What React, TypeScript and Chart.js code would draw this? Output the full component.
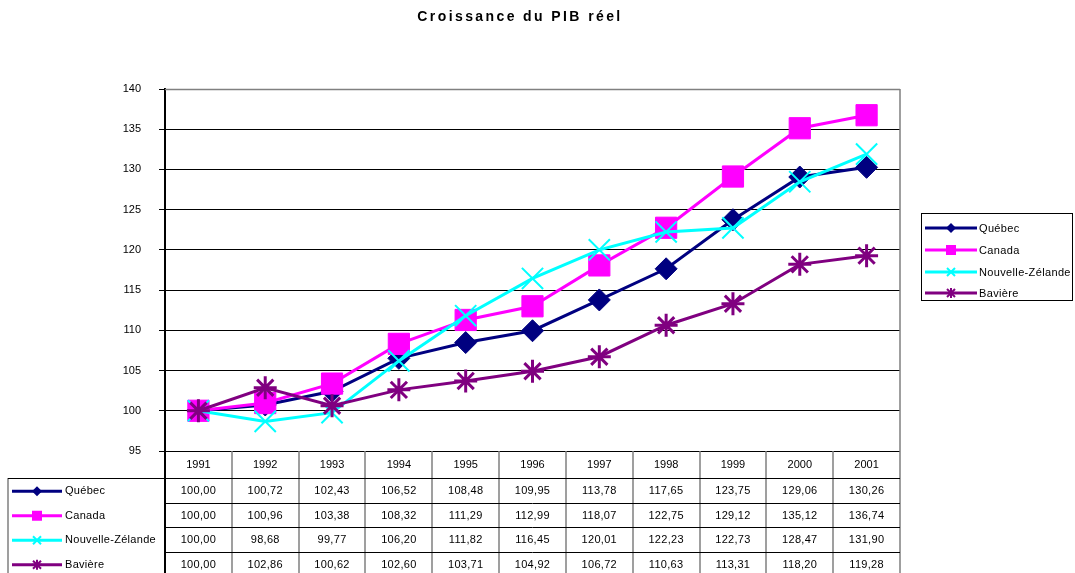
import React, { useEffect, useRef } from 'react';
import { Chart, registerables } from 'chart.js';

Chart.register(...registerables);

const years = ['1991', '1992', '1993', '1994', '1995', '1996', '1997', '1998', '1999', '2000', '2001'];
const quebec = [100.0, 100.72, 102.43, 106.52, 108.48, 109.95, 113.78, 117.65, 123.75, 129.06, 130.26];
const canada = [100.0, 100.96, 103.38, 108.32, 111.29, 112.99, 118.07, 122.75, 129.12, 135.12, 136.74];
const nouvelleZelande = [100.0, 98.68, 99.77, 106.2, 111.82, 116.45, 120.01, 122.23, 122.73, 128.47, 131.9];
const baviere = [100.0, 102.86, 100.62, 102.6, 103.71, 104.92, 106.72, 110.63, 113.31, 118.2, 119.28];
const seriesNames = ['Québec', 'Canada', 'Nouvelle-Zélande', 'Bavière'];
const seriesValues = [quebec, canada, nouvelleZelande, baviere];
const seriesColors = ['#000080', '#FF00FF', '#00FFFF', '#800080'];
const seriesMarkers = ['rectRot', 'rect', 'crossRot', 'star'];
const titleText = 'Croissance du PIB réel';
const yMin = 95;
const yMax = 140;
const yStep = 5;

const FONT = "'Liberation Sans', Arial, sans-serif";

function drawMarker(ctx: CanvasRenderingContext2D, style: string, x: number, y: number, r: number, color: string) {
  ctx.save();
  ctx.fillStyle = color;
  ctx.strokeStyle = color;
  ctx.lineWidth = 2;
  ctx.beginPath();
  if (style === 'rectRot') {
    ctx.moveTo(x - r, y);
    ctx.lineTo(x, y - r);
    ctx.lineTo(x + r, y);
    ctx.lineTo(x, y + r);
    ctx.closePath();
    ctx.fill();
  } else if (style === 'rect') {
    ctx.rect(x - r, y - r, 2 * r, 2 * r);
    ctx.fill();
  } else if (style === 'crossRot') {
    ctx.moveTo(x - r, y - r);
    ctx.lineTo(x + r, y + r);
    ctx.moveTo(x + r, y - r);
    ctx.lineTo(x - r, y + r);
    ctx.stroke();
  } else {
    const d = r * 0.8;
    ctx.moveTo(x - d, y - d);
    ctx.lineTo(x + d, y + d);
    ctx.moveTo(x + d, y - d);
    ctx.lineTo(x - d, y + d);
    ctx.moveTo(x, y - r);
    ctx.lineTo(x, y + r);
    ctx.moveTo(x - r, y);
    ctx.lineTo(x + r, y);
    ctx.stroke();
  }
  ctx.restore();
}

function legendKey(ctx: CanvasRenderingContext2D, i: number, x0: number, x1: number, y: number) {
  ctx.save();
  ctx.strokeStyle = seriesColors[i];
  ctx.lineWidth = 3;
  ctx.beginPath();
  ctx.moveTo(x0, y);
  ctx.lineTo(x1, y);
  ctx.stroke();
  ctx.restore();
  const cx = (x0 + x1) / 2;
  const sizes = [5, 5, 4, 5];
  drawMarker(ctx, seriesMarkers[i], cx, y, sizes[i], seriesColors[i]);
}

const overlayPlugin = {
  id: 'overlay',
  afterDraw(chart: any) {
    const ctx: CanvasRenderingContext2D = chart.ctx;
    const { left, right, top, bottom } = chart.chartArea;
    const H = chart.height;
    ctx.save();
    // title
    ctx.fillStyle = '#000';
    ctx.font = `bold 14px ${FONT}`;
    (ctx as any).letterSpacing = '2.4px';
    ctx.textAlign = 'center';
    ctx.textBaseline = 'middle';
    ctx.fillText(titleText, 520, 17);
    (ctx as any).letterSpacing = '0px';

    // plot frame: top & right
    ctx.strokeStyle = '#808080';
    ctx.lineWidth = 1.5;
    ctx.beginPath();
    ctx.moveTo(left, top + 0.5);
    ctx.lineTo(right, top + 0.5);
    ctx.moveTo(right, top);
    ctx.lineTo(right, H);
    ctx.stroke();

    // table
    const n = years.length;
    const colW = (right - left) / n;
    const headerBottom = bottom + 27;
    const rowH = 24.5;
    const tableLeft = 8;

    ctx.strokeStyle = '#808080';
    ctx.lineWidth = 1.5;
    ctx.beginPath();
    for (let i = 1; i < n; i++) {
      const x = Math.round(left + i * colW);
      ctx.moveTo(x, bottom);
      ctx.lineTo(x, H);
    }
    ctx.moveTo(tableLeft, headerBottom);
    ctx.lineTo(tableLeft, H);
    ctx.stroke();
    ctx.strokeStyle = '#000';
    ctx.lineWidth = 2;
    ctx.beginPath();
    ctx.moveTo(left, bottom);
    ctx.lineTo(left, H);
    ctx.stroke();

    ctx.strokeStyle = '#000';
    ctx.lineWidth = 1;
    ctx.beginPath();
    ctx.moveTo(tableLeft, Math.round(headerBottom) + 0.5);
    ctx.lineTo(right, Math.round(headerBottom) + 0.5);
    for (let r = 1; r < 4; r++) {
      const y = Math.round(headerBottom + r * rowH) + 0.5;
      ctx.moveTo(left, y);
      ctx.lineTo(right, y);
    }
    ctx.stroke();

    ctx.fillStyle = '#000';
    ctx.font = `11px ${FONT}`;
    ctx.textAlign = 'center';
    ctx.textBaseline = 'middle';
    for (let i = 0; i < n; i++) {
      const cx = chart.scales.x.getPixelForValue(i);
      ctx.fillText(years[i], cx, bottom + 14);
    }
    for (let s = 0; s < seriesValues.length; s++) {
      const cy = headerBottom + s * rowH + rowH / 2 + 1;
      ctx.textAlign = 'center';
      ctx.fillStyle = '#000';
      (ctx as any).letterSpacing = '0.3px';
      for (let i = 0; i < n; i++) {
        const cx = chart.scales.x.getPixelForValue(i);
        ctx.fillText(seriesValues[s][i].toFixed(2).replace('.', ','), cx, cy);
      }
      legendKey(ctx, s, 12, 62, cy);
      ctx.fillStyle = '#000';
      ctx.textAlign = 'left';
      ctx.fillText(seriesNames[s], 65, cy);
      (ctx as any).letterSpacing = '0px';
    }

    // legend box
    ctx.strokeStyle = '#000';
    ctx.lineWidth = 1;
    ctx.strokeRect(921.5, 213.5, 151, 87);
    const ly = [228, 250, 272, 293];
    for (let s = 0; s < seriesNames.length; s++) {
      legendKey(ctx, s, 925, 977, ly[s]);
      ctx.fillStyle = '#000';
      ctx.font = `11px ${FONT}`;
      ctx.textAlign = 'left';
      ctx.textBaseline = 'middle';
      (ctx as any).letterSpacing = '0.35px';
      ctx.fillText(seriesNames[s], 979, ly[s] + 1);
      (ctx as any).letterSpacing = '0px';
    }
    ctx.restore();
  },
};

export default function App() {
  const ref = useRef<HTMLCanvasElement>(null);
  useEffect(() => {
    if (!ref.current) return;
    const radii = [11, 15, 15, 11.5];
    const borderWidths = [1, 1, 2, 3];
    const chart = new Chart(ref.current, {
      type: 'line',
      data: {
        labels: years,
        datasets: seriesValues.map((vals, i) => ({
          label: seriesNames[i],
          data: vals,
          borderColor: seriesColors[i],
          backgroundColor: seriesColors[i],
          borderWidth: 3,
          pointStyle: seriesMarkers[i] as any,
          pointRadius: radii[i],
          pointBorderWidth: borderWidths[i],
          pointBorderColor: seriesColors[i],
          pointBackgroundColor: seriesColors[i],
          tension: 0,
          order: 3 - i,
        })),
      },
      options: {
        responsive: false,
        animation: false,
        layout: { padding: { left: 0, right: 175, top: 89, bottom: 122 } },
        plugins: {
          legend: { display: false },
          title: { display: false },
          tooltip: { enabled: false },
        },
        scales: {
          x: {
            display: false,
            offset: true,
          },
          y: {
            min: yMin,
            max: yMax,
            afterFit: (axis: any) => {
              axis.width = 165;
            },
            ticks: {
              stepSize: yStep,
              color: '#000',
              font: { family: FONT, size: 11 },
              padding: 18,
            },
            grid: {
              color: (c: any) => (c.tick && c.tick.value === yMax ? '#808080' : '#000'),
              lineWidth: 1,
              tickLength: 6,
              tickColor: '#000',
            },
            border: { color: '#000', width: 2 },
          },
        },
      },
      plugins: [overlayPlugin],
    });
    return () => chart.destroy();
  }, []);
  return (
    <div style={{ position: 'fixed', left: 0, top: 0, width: 1075, height: 573, background: '#fff' }}>
      <canvas ref={ref} width={1075} height={573} style={{ display: 'block' }} />
    </div>
  );
}
